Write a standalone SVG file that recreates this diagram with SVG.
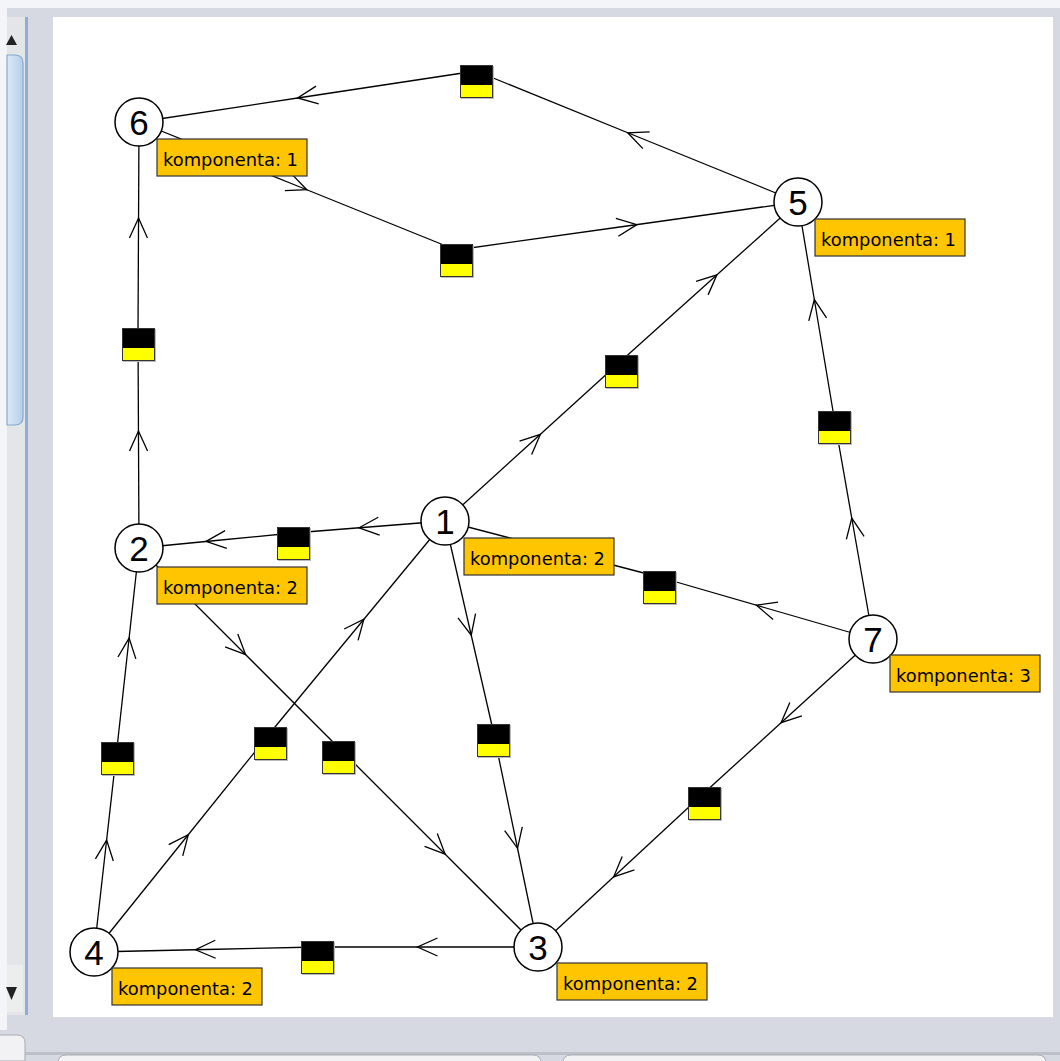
<svg xmlns="http://www.w3.org/2000/svg" xmlns:xlink="http://www.w3.org/1999/xlink" width="1060" height="1061" viewBox="0 0 1060 1061">
<style>
.edge{fill:none;stroke:#000;stroke-width:1.3;marker-mid:url(#arr)}
.node circle{fill:#fff;stroke:#000;stroke-width:1.5}
.num{font-family:"Liberation Sans",Arial,sans-serif;font-size:35px;text-anchor:middle;fill:#000}
.lbl rect{fill:#ffc600;stroke:#333;stroke-width:1.2}
.lbl text{font-family:"DejaVu Sans","Liberation Sans",sans-serif;font-size:17px;fill:#000}
</style>
<defs>
<marker id="arr" viewBox="-12 -12 24 24" refX="0" refY="0" markerWidth="24" markerHeight="24" markerUnits="userSpaceOnUse" orient="auto" overflow="visible">
<path d="M-10,-9 L10,0 L-10,9" fill="none" stroke="#000" stroke-width="1.3"/>
</marker>
<g id="box">
<rect x="1" y="1" width="33" height="33" fill="#bbb"/>
<rect x="0" y="0" width="33" height="20" fill="#000"/>
<rect x="0" y="20" width="33" height="13" fill="#ffff00"/>
<rect x="0.5" y="0.5" width="32" height="32" fill="none" stroke="#333" stroke-width="1"/>
</g>
<linearGradient id="thumb" x1="0" y1="0" x2="1" y2="0">
<stop offset="0" stop-color="#dbeaf7"/>
<stop offset="1" stop-color="#b4cfea"/>
</linearGradient>
</defs>

<g id="chrome">
<rect x="0" y="0" width="1060" height="1061" fill="#d6d9e2"/>
<rect x="0" y="0" width="1060" height="8" fill="#f4f5f8"/>
<rect x="0" y="0" width="7" height="1030" fill="#f4f5f8"/>
<rect x="7" y="17" width="18" height="998" fill="#e4e5e9"/>
<rect x="25" y="17" width="3" height="998" fill="#8eaed4"/>
<path d="M7,55 L15,55 Q23,55 23,63 L23,417 Q23,425 15,425 L7,425 Z" fill="url(#thumb)" stroke="#86a9d0" stroke-width="1.2"/>
<polygon points="6,45 17,45 11.5,35" fill="#222"/>
<rect x="7" y="965" width="16" height="47" fill="#eceded"/>
<polygon points="6,987 17,987 11.5,1000" fill="#222"/>
<rect x="53" y="17" width="1000" height="1000" fill="#fff"/>
<rect x="0" y="1052" width="1060" height="3" fill="#bcc0c9"/>
<path d="M-10,1061 L-10,1035 L17,1035 Q25,1035 25,1043 L25,1061 Z" fill="#f2f2f4" stroke="#a8abb2"/>
<path d="M58,1066 L58,1063 Q58,1055 66,1055 L533,1055 Q541,1055 541,1063 L541,1066 Z" fill="#f2f2f4" stroke="#a8abb2"/>
<path d="M563,1066 L563,1063 Q563,1055 571,1055 L1038,1055 Q1046,1055 1046,1063 L1046,1066 Z" fill="#f2f2f4" stroke="#a8abb2"/>
</g>

<g id="connectors">
<path class="edge" d="M798,202 L637,136.5 L476,71"/>
<path class="edge" d="M476,71 L307.5,96.5 L139,122"/>
<path class="edge" d="M139,122 L297.5,186 L456,250"/>
<path class="edge" d="M456,250 L627,226 L798,202"/>
<path class="edge" d="M139,548 L138.5,441 L138,334"/>
<path class="edge" d="M138,334 L138.5,228 L139,122"/>
<path class="edge" d="M445,521 L533,441 L621,361"/>
<path class="edge" d="M621,361 L709.5,281.5 L798,202"/>
<path class="edge" d="M873,639 L853.5,528 L834,417"/>
<path class="edge" d="M834,417 L816,309.5 L798,202"/>
<path class="edge" d="M445,521 L369,527 L293,533"/>
<path class="edge" d="M293,533 L216,540.5 L139,548"/>
<path class="edge" d="M873,639 L766,608 L659,577"/>
<path class="edge" d="M659,577 L552,549 L445,521"/>
<path class="edge" d="M94,952 L105.5,850 L117,748"/>
<path class="edge" d="M117,748 L128,648 L139,548"/>
<path class="edge" d="M94,952 L182,842.5 L270,733"/>
<path class="edge" d="M270,733 L357.5,627 L445,521"/>
<path class="edge" d="M139,548 L238.5,647.5 L338,747"/>
<path class="edge" d="M338,747 L438,847 L538,947"/>
<path class="edge" d="M445,521 L469,625.5 L493,730"/>
<path class="edge" d="M493,730 L515.5,838.5 L538,947"/>
<path class="edge" d="M873,639 L788.5,716 L704,793"/>
<path class="edge" d="M704,793 L621,870 L538,947"/>
<path class="edge" d="M538,947 L427.5,947 L317,947"/>
<path class="edge" d="M317,947 L205.5,949.5 L94,952"/>
<use xlink:href="#box" x="460" y="65"/>
<use xlink:href="#box" x="440" y="244"/>
<use xlink:href="#box" x="122" y="328"/>
<use xlink:href="#box" x="605" y="355"/>
<use xlink:href="#box" x="818" y="411"/>
<use xlink:href="#box" x="277" y="527"/>
<use xlink:href="#box" x="643" y="571"/>
<use xlink:href="#box" x="101" y="742"/>
<use xlink:href="#box" x="254" y="727"/>
<use xlink:href="#box" x="322" y="741"/>
<use xlink:href="#box" x="477" y="724"/>
<use xlink:href="#box" x="688" y="787"/>
<use xlink:href="#box" x="301" y="941"/>
</g>

<g id="node6" class="node">
<circle cx="139" cy="122" r="24"/>
<text class="num" x="139" y="134.5">6</text>
<g class="lbl"><rect x="157" y="139" width="150" height="37"/><text x="163" y="166" textLength="135" lengthAdjust="spacingAndGlyphs">komponenta: 1</text></g>
</g>
<g id="node5" class="node">
<circle cx="798" cy="202" r="24"/>
<text class="num" x="798" y="214.5">5</text>
<g class="lbl"><rect x="815" y="219" width="150" height="37"/><text x="821" y="246" textLength="135" lengthAdjust="spacingAndGlyphs">komponenta: 1</text></g>
</g>
<g id="node1" class="node">
<circle cx="445" cy="521" r="24"/>
<text class="num" x="445" y="533.5">1</text>
<g class="lbl"><rect x="464" y="538" width="150" height="37"/><text x="470" y="565" textLength="135" lengthAdjust="spacingAndGlyphs">komponenta: 2</text></g>
</g>
<g id="node2" class="node">
<circle cx="139" cy="548" r="24"/>
<text class="num" x="139" y="560.5">2</text>
<g class="lbl"><rect x="157" y="567" width="150" height="37"/><text x="163" y="594" textLength="135" lengthAdjust="spacingAndGlyphs">komponenta: 2</text></g>
</g>
<g id="node7" class="node">
<circle cx="873" cy="639" r="24"/>
<text class="num" x="873" y="651.5">7</text>
<g class="lbl"><rect x="890" y="655" width="150" height="37"/><text x="896" y="682" textLength="135" lengthAdjust="spacingAndGlyphs">komponenta: 3</text></g>
</g>
<g id="node4" class="node">
<circle cx="94" cy="952" r="24"/>
<text class="num" x="94" y="964.5">4</text>
<g class="lbl"><rect x="112" y="968" width="150" height="37"/><text x="118" y="995" textLength="135" lengthAdjust="spacingAndGlyphs">komponenta: 2</text></g>
</g>
<g id="node3" class="node">
<circle cx="538" cy="947" r="24"/>
<text class="num" x="538" y="959.5">3</text>
<g class="lbl"><rect x="557" y="963" width="150" height="37"/><text x="563" y="990" textLength="135" lengthAdjust="spacingAndGlyphs">komponenta: 2</text></g>
</g>
</svg>
